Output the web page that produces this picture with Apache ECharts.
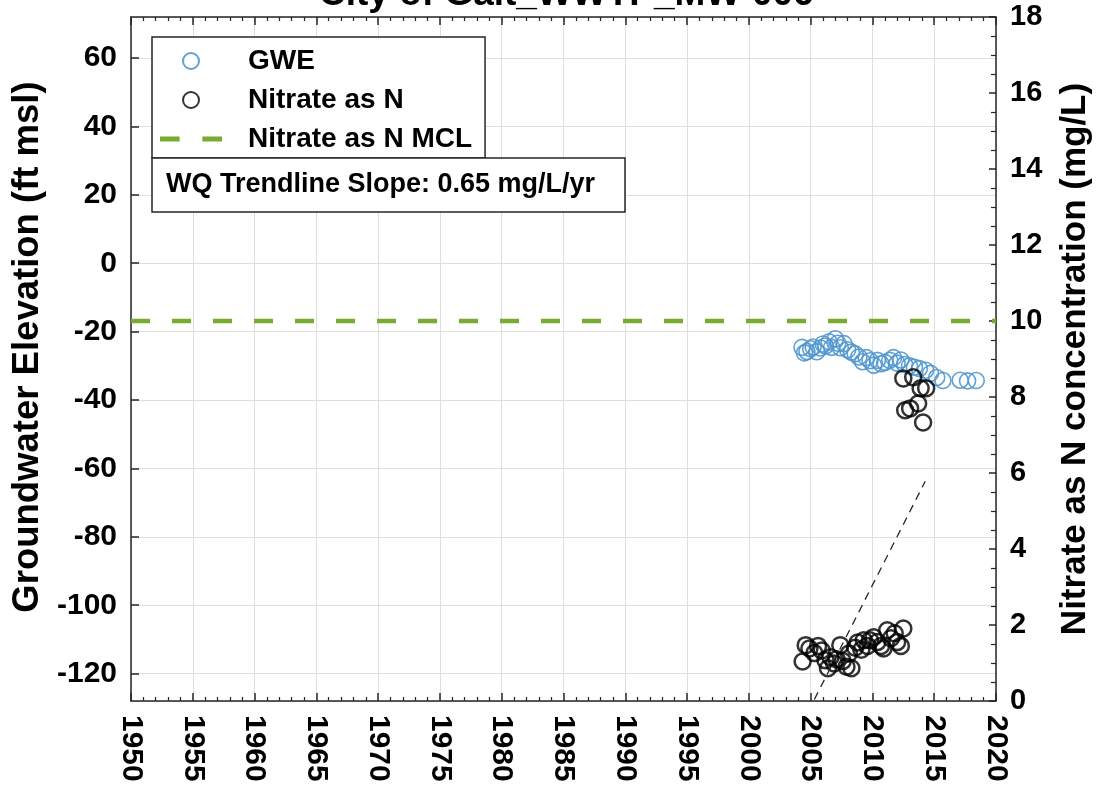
<!DOCTYPE html>
<html><head><meta charset="utf-8">
<script src="https://cdn.jsdelivr.net/npm/echarts@6/dist/echarts.min.js"></script>
<style>html,body{margin:0;padding:0;background:#fff}#c{width:1101px;height:790px}</style>
</head><body><div id="c"></div>
<script>
const titleText = 'City of Galt_WWTP_MW-006';
const slopeText = 'WQ Trendline Slope: 0.65 mg/L/yr';
const leftAxisName = 'Groundwater Elevation (ft msl)';
const rightAxisName = 'Nitrate as N concentration (mg/L)';
const seriesNames = ['GWE', 'Nitrate as N', 'Nitrate as N MCL'];

const gweYears = [2004.3, 2004.5, 2004.7, 2005.0, 2005.2, 2005.5, 2005.8, 2006.0, 2006.2, 2006.5,
  2006.7, 2007.0, 2007.2, 2007.4, 2007.7, 2008.0, 2008.3, 2008.6, 2008.9, 2009.2,
  2009.5, 2009.8, 2010.1, 2010.4, 2010.7, 2011.0, 2011.4, 2011.7, 2012.0, 2012.3,
  2012.6, 2013.0, 2013.4, 2013.8, 2014.3, 2014.7, 2015.2, 2015.7, 2017.1, 2017.7, 2018.4];
const gweElev = [-24.6, -26.2, -25.8, -25.0, -24.5, -25.9, -24.8, -23.6, -24.2, -23.0,
  -24.6, -22.1, -23.4, -24.7, -23.5, -25.3, -26.0, -26.5, -27.4, -28.8,
  -27.6, -28.5, -29.8, -28.4, -29.4, -29.0, -28.4, -27.6, -29.2, -28.3,
  -29.6, -30.0, -30.4, -30.8, -31.3, -32.2, -33.4, -34.3, -34.2, -34.4, -34.3];

const nitrateYears = [2004.35, 2004.6, 2004.9, 2005.3, 2005.6, 2005.9, 2006.2, 2006.4, 2006.6, 2006.9,
  2007.1, 2007.4, 2007.6, 2007.9, 2008.1, 2008.3, 2008.6, 2008.8, 2009.1, 2009.3,
  2009.6, 2009.8, 2010.1, 2010.4, 2010.7, 2010.9, 2011.2, 2011.5, 2011.8, 2012.0,
  2012.3, 2012.5, 2012.5, 2012.65, 2013.05, 2013.3, 2013.7, 2013.9, 2014.1, 2014.35];
const nitrateValues = [1.04, 1.47, 1.38, 1.26, 1.45, 1.33, 1.07, 0.86, 1.15, 0.99,
  1.10, 1.47, 1.05, 0.90, 1.25, 0.86, 1.40, 1.54, 1.35, 1.60,
  1.45, 1.60, 1.68, 1.55, 1.45, 1.38, 1.86, 1.65, 1.78, 1.55,
  1.45, 1.91, 8.49, 7.65, 7.70, 8.52, 7.83, 8.23, 7.33, 8.23];

const mclYears = [1950, 2020];
const mclValues = [10, 10];
const trendYears = [2005.3, 2014.27];
const trendValues = [0.04, 5.78];

const xMin = 1950, xMax = 2020, xStep = 5;
const leftMin = -128, leftMax = 72;
const rightMin = 0, rightMax = 18, rightStep = 2;

const zip = (a, b) => a.map((v, i) => [v, b[i]]);
const FONT = 'Liberation Sans, Arial, Helvetica, sans-serif';
const AX = '#262626';
const GRIDC = '#dedede';
const MCL = '#77ac30';

const chart = echarts.init(document.getElementById('c'));
chart.setOption({
  animation: false,
  backgroundColor: '#fff',
  textStyle: { fontFamily: FONT },
  title: [
    { text: titleText, left: 319, top: -24, padding: 0,
      textStyle: { fontSize: 37, fontWeight: 'bold', color: '#000', fontFamily: FONT } },
    { text: slopeText, left: 152, top: 158, padding: [13, 30, 14, 14],
      borderColor: AX, borderWidth: 1.5, backgroundColor: '#fff',
      textStyle: { fontSize: 27, fontWeight: 'bold', color: '#000', fontFamily: FONT } }
  ],
  legend: {
    left: 152, top: 37, orient: 'vertical', padding: [10, 13, 5, 8], itemGap: 11,
    itemWidth: 62, itemHeight: 16, borderColor: AX, borderWidth: 1.5, backgroundColor: '#fff',
    textStyle: { fontSize: 28, fontWeight: 'bold', color: '#000', fontFamily: FONT, padding: [0, 0, 0, 21] },
    data: [seriesNames[0], seriesNames[1],
      { name: seriesNames[2], icon: 'path://M0,0h19v5h-19zM41,0h19v5h-19z',
        itemStyle: { color: MCL, borderWidth: 0 } }]
  },
  grid: { left: 131, right: 103, top: 17, bottom: 89, containLabel: false },
  xAxis: [
    { type: 'value', position: 'bottom', min: xMin, max: xMax, interval: xStep,
      axisLine: { show: true, onZero: false, lineStyle: { color: AX, width: 1.5 } },
      axisTick: { show: true, inside: true, length: 8, lineStyle: { color: AX, width: 1.5 } },
      minorTick: { show: true, splitNumber: 5, length: 4, lineStyle: { color: AX, width: 1.2 } },
      axisLabel: { rotate: -90, margin: 14, fontSize: 30, fontWeight: 'bold', color: '#000', fontFamily: FONT,
        formatter: v => String(v) },
      splitLine: { show: true, lineStyle: { color: GRIDC, width: 1 } } },
    { type: 'value', position: 'top', min: xMin, max: xMax, interval: xStep,
      axisLine: { show: true, onZero: false, lineStyle: { color: AX, width: 1.5 } },
      axisTick: { show: true, inside: true, length: 8, lineStyle: { color: AX, width: 1.5 } },
      minorTick: { show: true, splitNumber: 5, length: 4, lineStyle: { color: AX, width: 1.2 } },
      axisLabel: { show: false }, splitLine: { show: false } }
  ],
  yAxis: [
    { type: 'value', position: 'left', min: leftMin, max: leftMax, splitNumber: 10,
      name: leftAxisName, nameLocation: 'middle', nameRotate: 90, nameGap: 84,
      nameTextStyle: { fontSize: 36.5, fontWeight: 'bold', color: '#000', fontFamily: FONT, padding: [0, 0, 0, 24] },
      axisLine: { show: true, onZero: false, lineStyle: { color: AX, width: 1.5 } },
      axisTick: { show: true, inside: true, length: 8, lineStyle: { color: AX, width: 1.5 } },
      axisLabel: { showMinLabel: false, showMaxLabel: false, margin: 14, fontSize: 30, fontWeight: 'bold', color: '#000', fontFamily: FONT,
        formatter: v => String(v) },
      splitLine: { show: true, lineStyle: { color: GRIDC, width: 1 } } },
    { type: 'value', position: 'right', min: rightMin, max: rightMax, interval: rightStep,
      name: rightAxisName, nameLocation: 'middle', nameRotate: 90, nameGap: 62,
      nameTextStyle: { fontSize: 35, fontWeight: 'bold', color: '#000', fontFamily: FONT },
      axisLine: { show: true, onZero: false, lineStyle: { color: AX, width: 1.5 } },
      axisTick: { show: true, inside: true, length: 7, lineStyle: { color: AX, width: 1.5 } },
      minorTick: { show: true, splitNumber: 4, length: 5, lineStyle: { color: AX, width: 1.2 } },
      axisLabel: { margin: 14, fontSize: 29, fontWeight: 'bold', color: '#000', fontFamily: FONT },
      splitLine: { show: false } }
  ],
  series: [
    { name: seriesNames[0], type: 'scatter', xAxisIndex: 0, yAxisIndex: 0,
      symbol: 'circle', symbolSize: 16, data: zip(gweYears, gweElev),
      itemStyle: { color: 'rgba(0,0,0,0)', borderColor: '#4f97cf', borderWidth: 1.6, opacity: 0.9 } },
    { name: seriesNames[1], type: 'scatter', xAxisIndex: 0, yAxisIndex: 1,
      symbol: 'circle', symbolSize: 16, data: zip(nitrateYears, nitrateValues),
      itemStyle: { color: 'rgba(0,0,0,0)', borderColor: '#000', borderWidth: 2.5 } },
    { name: seriesNames[2], type: 'line', xAxisIndex: 0, yAxisIndex: 1,
      symbol: 'none', data: zip(mclYears, mclValues),
      lineStyle: { color: MCL, width: 4.5, type: [19, 22] },
      itemStyle: { color: MCL } },
    { name: 'trend', type: 'line', xAxisIndex: 0, yAxisIndex: 1,
      symbol: 'none', data: zip(trendYears, trendValues),
      lineStyle: { color: '#262626', width: 1.3, type: [8, 6] } }
  ]
});
</script></body></html>
